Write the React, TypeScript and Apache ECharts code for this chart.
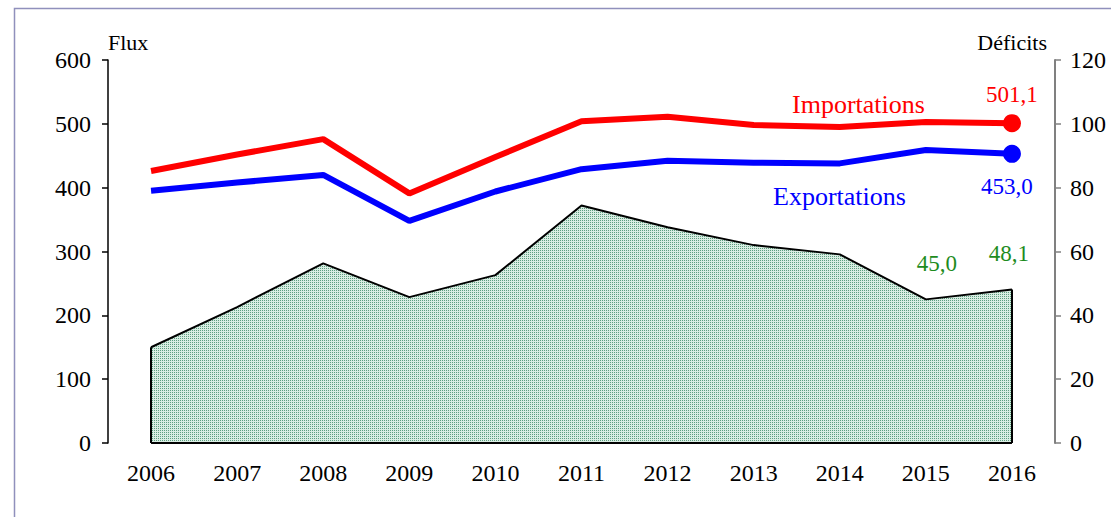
import React, { useEffect, useRef } from "react";
import * as echarts from "echarts";

const years = ["2006", "2007", "2008", "2009", "2010", "2011", "2012", "2013", "2014", "2015", "2016"];
const importations = [426, 452, 476, 391, 448, 504, 511, 498, 495, 503, 501.1];
const exportations = [395, 408, 420, 348, 394, 429, 442, 439, 438, 459, 453.0];
const deficits = [30.0, 42.6, 56.3, 45.7, 52.6, 74.4, 67.6, 62.0, 59.1, 45.0, 48.1];
const leftTicks = { min: 0, max: 600, interval: 100 };
const rightTicks = { min: 0, max: 120, interval: 20 };

const FONT = "'Liberation Serif', 'Times New Roman', serif";
const fmt = (v: number) => v.toFixed(1).replace(".", ",");

function makePattern(): HTMLCanvasElement {
  const c = document.createElement("canvas");
  c.width = 2;
  c.height = 2;
  const ctx = c.getContext("2d")!;
  ctx.fillStyle = "#d9ede3";
  ctx.fillRect(0, 0, 2, 2);
  ctx.fillStyle = "#5e9f80";
  ctx.fillRect(0, 0, 1, 1);
  return c;
}

export default function App() {
  const ref = useRef<HTMLDivElement>(null);
  useEffect(() => {
    document.body.style.margin = "0";
    const chart = echarts.init(ref.current!, null, { renderer: "svg" });
    const last = years.length - 1;
    const symSize = (size: number) => (_v: any, p: any) => (p.dataIndex === last ? size : 0);

    chart.setOption({
      animation: false,
      backgroundColor: "#ffffff",
      textStyle: { fontFamily: FONT },
      grid: { left: 108, right: 56, top: 60, bottom: 74, containLabel: false },
      xAxis: {
        type: "category",
        data: years,
        boundaryGap: true,
        axisLine: { show: false },
        axisTick: { show: false },
        axisLabel: { color: "#000", fontSize: 24, fontFamily: FONT, margin: 18 },
        splitLine: { show: false },
      },
      yAxis: [
        {
          type: "value",
          ...leftTicks,
          position: "left",
          axisLine: { show: true, lineStyle: { color: "#000", width: 1.5 } },
          axisTick: { show: true, length: 6, lineStyle: { color: "#000", width: 1.5 } },
          axisLabel: { color: "#000", fontSize: 24, fontFamily: FONT, margin: 17 },
          splitLine: { show: false },
        },
        {
          type: "value",
          ...rightTicks,
          position: "right",
          axisLine: { show: true, lineStyle: { color: "#808080", width: 2 } },
          axisTick: { show: true, length: 6, lineStyle: { color: "#808080", width: 1.5 } },
          axisLabel: { color: "#000", fontSize: 24, fontFamily: FONT, margin: 15 },
          splitLine: { show: false },
        },
      ],
      series: [
        {
          name: "Déficits",
          type: "line",
          yAxisIndex: 1,
          z: 1,
          symbol: "circle",
          symbolSize: 0.01,
          showAllSymbol: true,
          itemStyle: { color: "rgba(0,0,0,0)" },
          lineStyle: { color: "#000", width: 2 },
          areaStyle: { color: { image: makePattern(), repeat: "repeat" }, opacity: 1 },
          emphasis: { disabled: true },
          data: deficits.map((v, i) =>
            i >= last - 1
              ? {
                  value: v,
                  label: {
                    show: true,
                    position: "top",
                    distance: 24,
                    offset: [i === last ? -3 : 11, 0],
                    color: "#1e8c1e",
                    fontSize: 23,
                    fontFamily: FONT,
                    formatter: (p: any) => fmt(p.value),
                  },
                }
              : v
          ),
          markLine: {
            silent: true,
            symbol: ["none", "none"],
            label: { show: false },
            lineStyle: { color: "#000", width: 2, type: "solid" },
            emphasis: { disabled: true },
            data: [
              [{ coord: [years[0], 0] }, { coord: [years[0], deficits[0]] }],
              [{ coord: [years[last], 0] }, { coord: [years[last], deficits[last]] }],
              [{ coord: [years[0], 0] }, { coord: [years[last], 0] }],
            ],
          },
        },
        {
          name: "Exportations",
          type: "line",
          yAxisIndex: 0,
          z: 3,
          symbol: "circle",
          symbolSize: symSize(18),
          showAllSymbol: true,
          itemStyle: { color: "#0000ff" },
          lineStyle: { color: "#0000ff", width: 6 },
          emphasis: { disabled: true },
          data: exportations.map((v, i) =>
            i === last
              ? {
                  value: v,
                  label: {
                    show: true,
                    position: "bottom",
                    distance: 12,
                    offset: [-5, 0],
                    color: "#0000ff",
                    fontSize: 23,
                    fontFamily: FONT,
                    formatter: (p: any) => fmt(p.value),
                  },
                }
              : v
          ),
        },
        {
          name: "Importations",
          type: "line",
          yAxisIndex: 0,
          z: 4,
          symbol: "circle",
          symbolSize: symSize(18),
          showAllSymbol: true,
          itemStyle: { color: "#ff0000" },
          lineStyle: { color: "#ff0000", width: 6 },
          emphasis: { disabled: true },
          data: importations.map((v, i) =>
            i === last
              ? {
                  value: v,
                  label: {
                    show: true,
                    position: "top",
                    distance: 8,
                    offset: [0, 0],
                    color: "#ff0000",
                    fontSize: 23,
                    fontFamily: FONT,
                    formatter: (p: any) => fmt(p.value),
                  },
                }
              : v
          ),
        },
      ],
      graphic: [
        {
          type: "rect",
          z: 0,
          silent: true,
          shape: { x: 14.5, y: 8.5, width: 1200, height: 600 },
          style: { fill: "none", stroke: "#9090bc", lineWidth: 1.5 },
        },
        {
          type: "text",
          z: 10,
          left: 108,
          top: 31,
          style: { text: "Flux", fontSize: 22, fontFamily: FONT, fill: "#000" },
        },
        {
          type: "text",
          z: 10,
          right: 64,
          top: 31,
          style: { text: "Déficits", fontSize: 22, fontFamily: FONT, fill: "#000", align: "right" },
        },
        {
          type: "text",
          z: 10,
          left: 792,
          top: 91,
          style: { text: "Importations", fontSize: 26, fontFamily: FONT, fill: "#ff0000" },
        },
        {
          type: "text",
          z: 10,
          left: 773,
          top: 183,
          style: { text: "Exportations", fontSize: 26, fontFamily: FONT, fill: "#0000ff" },
        },
        {
          type: "group",
          z: 10,
          children: [
            {
              type: "rect",
              shape: { x: 490, y: 340, width: 273, height: 42 },
              style: { fill: "#ffffff" },
            },
            {
              type: "text",
              x: 626,
              y: 358,
              style: {
                text: "Déficits (échelle de droite)",
                fontSize: 22,
                fontFamily: FONT,
                fill: "#000",
                align: "center",
                verticalAlign: "middle",
              },
            },
          ],
        },
      ],
    });
    return () => chart.dispose();
  }, []);
  return <div ref={ref} style={{ width: 1111, height: 517 }} />;
}
